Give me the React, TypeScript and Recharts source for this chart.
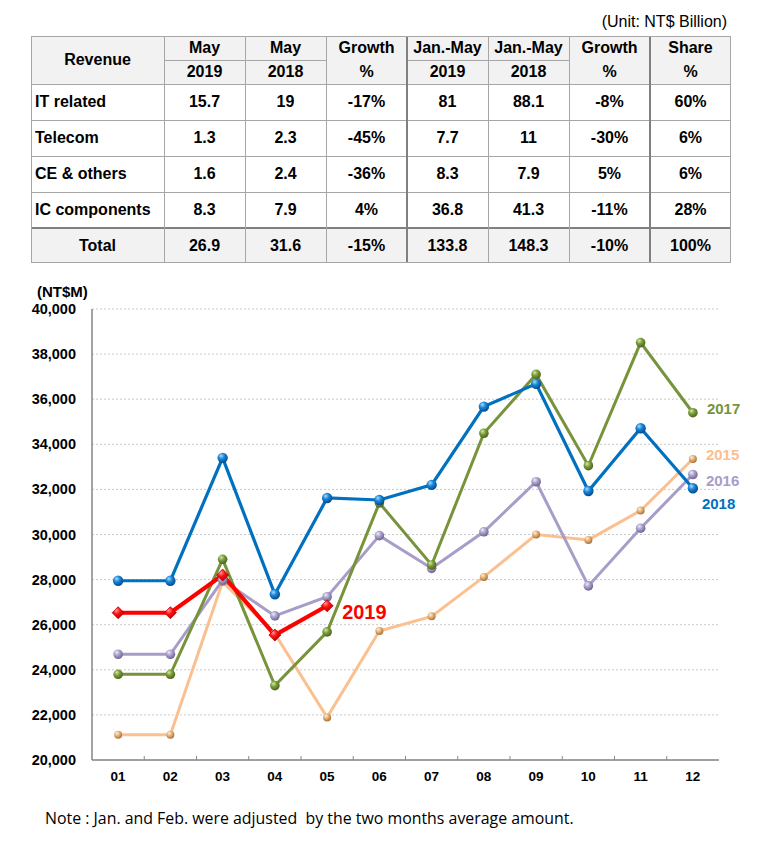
import React from 'react';
import { LineChart, Line, XAxis, YAxis, CartesianGrid } from 'recharts';

const months = ['01', '02', '03', '04', '05', '06', '07', '08', '09', '10', '11', '12'];
const rev2015 = [21120, 21120, 27900, 25600, 21890, 25720, 26370, 28120, 30000, 29760, 31060, 33350];
const rev2016 = [24690, 24690, 27980, 26390, 27240, 29950, 28500, 30120, 32340, 27720, 30280, 32660];
const rev2017 = [23800, 23800, 28900, 23300, 25680, 31400, 28650, 34490, 37100, 33050, 38510, 35400];
const rev2018 = [27950, 27950, 33400, 27350, 31620, 31530, 32200, 35670, 36680, 31930, 34710, 32050];
const rev2019 = [26530, 26530, 28200, 25540, 26840];
const yTicks = [20000, 22000, 24000, 26000, 28000, 30000, 32000, 34000, 36000, 38000, 40000];

const headTop = ['May', 'May', 'Jan.-May', 'Jan.-May'];
const headBottom = ['2019', '2018', '2019', '2018'];
const bodyRows = [
  ['IT related', '15.7', '19', '-17%', '81', '88.1', '-8%', '60%'],
  ['Telecom', '1.3', '2.3', '-45%', '7.7', '11', '-30%', '6%'],
  ['CE & others', '1.6', '2.4', '-36%', '8.3', '7.9', '5%', '6%'],
  ['IC components', '8.3', '7.9', '4%', '36.8', '41.3', '-11%', '28%'],
];
const totalRow = ['Total', '26.9', '31.6', '-15%', '133.8', '148.3', '-10%', '100%'];

const data = months.map((m, i) => ({
  month: m,
  y2015: rev2015[i],
  y2016: rev2016[i],
  y2017: rev2017[i],
  y2018: rev2018[i],
  y2019: i < rev2019.length ? rev2019[i] : null,
}));

const COLS = [0, 133, 214, 295, 376, 457, 538, 619, 700];
const ROWS = [0, 24, 48, 84, 120, 156, 192, 227];
const LINE = '#A6A6A6';
const THICK = '#808080';
const FONT = '"Liberation Sans", Arial, sans-serif';

const PLOT_LEFT = 92;
const PLOT_RIGHT = 719;
const HALF_BAND = (PLOT_RIGHT - PLOT_LEFT) / months.length / 2;

function Cell(props: { c0: number; c1: number; r0: number; r1: number; children: React.ReactNode; align?: string; bg?: string }) {
  const { c0, c1, r0, r1, children, align, bg } = props;
  return (
    <div
      style={{
        position: 'absolute',
        left: COLS[c0],
        top: ROWS[r0],
        width: COLS[c1] - COLS[c0],
        height: ROWS[r1] - ROWS[r0],
        display: 'flex',
        alignItems: 'center',
        justifyContent: align === 'left' ? 'flex-start' : 'center',
        paddingLeft: align === 'left' ? 4 : 0,
        boxSizing: 'border-box',
        background: bg,
        textAlign: 'center',
        lineHeight: '24px',
      }}
    >
      {children}
    </div>
  );
}

function HLine(props: { y: number; x0: number; x1: number; w?: number; color?: string }) {
  const w = props.w || 1;
  return (
    <div style={{ position: 'absolute', left: props.x0, top: props.y - Math.floor(w / 2), width: props.x1 - props.x0, height: w, background: props.color || LINE }} />
  );
}
function VLine(props: { x: number; y0: number; y1: number; w?: number; color?: string }) {
  const w = props.w || 1;
  return (
    <div style={{ position: 'absolute', top: props.y0, left: props.x - Math.floor(w / 2), height: props.y1 - props.y0, width: w, background: props.color || LINE }} />
  );
}

function Table() {
  const HB = '#F2F2F2';
  return (
    <div style={{ position: 'absolute', left: 31, top: 36, width: 700, height: 227, fontFamily: FONT, fontWeight: 'bold', fontSize: 16, color: '#000' }}>
      <div style={{ position: 'absolute', left: 0, top: 0, width: 700, height: 48, background: HB }} />
      <div style={{ position: 'absolute', left: 0, top: 192, width: 700, height: 35, background: HB }} />
      <Cell c0={0} c1={1} r0={0} r1={2}>Revenue</Cell>
      <Cell c0={1} c1={2} r0={0} r1={1}>{headTop[0]}</Cell>
      <Cell c0={2} c1={3} r0={0} r1={1}>{headTop[1]}</Cell>
      <Cell c0={1} c1={2} r0={1} r1={2}>{headBottom[0]}</Cell>
      <Cell c0={2} c1={3} r0={1} r1={2}>{headBottom[1]}</Cell>
      <Cell c0={3} c1={4} r0={0} r1={2}>Growth<br />%</Cell>
      <Cell c0={4} c1={5} r0={0} r1={1}>{headTop[2]}</Cell>
      <Cell c0={5} c1={6} r0={0} r1={1}>{headTop[3]}</Cell>
      <Cell c0={4} c1={5} r0={1} r1={2}>{headBottom[2]}</Cell>
      <Cell c0={5} c1={6} r0={1} r1={2}>{headBottom[3]}</Cell>
      <Cell c0={6} c1={7} r0={0} r1={2}>Growth<br />%</Cell>
      <Cell c0={7} c1={8} r0={0} r1={2}>Share<br />%</Cell>
      {bodyRows.map((row, ri) =>
        row.map((v, ci) => (
          <Cell key={ri + '-' + ci} c0={ci} c1={ci + 1} r0={ri + 2} r1={ri + 3} align={ci === 0 ? 'left' : 'center'}>
            {v}
          </Cell>
        ))
      )}
      {totalRow.map((v, ci) => (
        <Cell key={'t' + ci} c0={ci} c1={ci + 1} r0={6} r1={7}>
          {v}
        </Cell>
      ))}
      <HLine y={24} x0={COLS[1]} x1={COLS[3]} />
      <HLine y={24} x0={COLS[4]} x1={COLS[6]} />
      {[48, 84, 120, 156].map((y) => (
        <HLine key={'h' + y} y={y} x0={0} x1={700} />
      ))}
      <HLine y={192} x0={0} x1={700} w={2} color={THICK} />
      {COLS.slice(1, -1).map((x, i) => (
        <VLine key={'v' + i} x={x} y0={0} y1={227} w={x === 376 || x === 619 ? 2 : 1} color={x === 376 || x === 619 ? THICK : LINE} />
      ))}
      <div style={{ position: 'absolute', left: 0, top: 0, width: 700, height: 227, border: '1px solid ' + LINE, boxSizing: 'border-box' }} />
    </div>
  );
}

function makeBall(id: string) {
  return (props: any) => {
    const { cx, cy, index } = props;
    if (cx == null || cy == null || props.value == null) return <g key={id + index} />;
    const r = props.r0;
    return <circle key={id + index} cx={cx} cy={cy} r={r} fill={'url(#' + id + ')'} stroke="none" />;
  };
}

function ball(id: string, r: number) {
  const f = makeBall(id);
  return (props: any) => f({ ...props, r0: r });
}

function diamond(props: any) {
  const { cx, cy, index, value } = props;
  if (cx == null || cy == null || value == null) return <g key={'d' + index} />;
  const s = 6;
  return (
    <polygon
      key={'d' + index}
      points={`${cx},${cy - s} ${cx + s},${cy} ${cx},${cy + s} ${cx - s},${cy}`}
      fill="url(#g2019)"
      stroke="#C00000"
      strokeWidth={0.8}
    />
  );
}

function endLabel(text: string, color: string, last: number, dx: number, dy: number, size: number) {
  return (props: any) => {
    const { x, y, index } = props;
    if (index !== last || x == null) return <g key={text + index} />;
    return (
      <text key={text + index} x={x + dx} y={y + dy} fill={color} fontSize={size} fontWeight="bold" fontFamily={FONT} dominantBaseline="central">
        {text}
      </text>
    );
  };
}

function XTick(props: any) {
  const { x, y, payload, index } = props;
  return (
    <g>
      {index > 0 && <line x1={x - HALF_BAND} x2={x - HALF_BAND} y1={y - 4} y2={y} stroke="#868686" strokeWidth={1} />}
      <text x={x} y={y + 21} textAnchor="middle" fontSize={13.5} fontWeight="bold" fontFamily={FONT} fill="#000">
        {payload.value}
      </text>
    </g>
  );
}

function YTick(props: any) {
  const { x, y, payload } = props;
  return (
    <text x={x} y={y} textAnchor="end" dominantBaseline="central" fontSize={14.5} fontWeight="bold" fontFamily={FONT} fill="#000">
      {Number(payload.value).toLocaleString('en-US')}
    </text>
  );
}

function Grad(props: { id: string; light: string; mid: string; dark: string }) {
  return (
    <radialGradient id={props.id} cx="0.4" cy="0.35" r="0.65" fx="0.35" fy="0.3">
      <stop offset="0%" stopColor={props.light} />
      <stop offset="45%" stopColor={props.mid} />
      <stop offset="100%" stopColor={props.dark} />
    </radialGradient>
  );
}

export default function App() {
  return (
    <div style={{ position: 'absolute', left: 0, top: 0, width: 765, height: 847, background: '#fff', overflow: 'hidden' }}>
      <div style={{ position: 'absolute', right: 38, top: 13, fontFamily: FONT, fontSize: 16, color: '#000', whiteSpace: 'nowrap' }}>
        (Unit: NT$ Billion)
      </div>
      <Table />
      <div style={{ position: 'absolute', left: 37, top: 283, fontFamily: FONT, fontSize: 15, fontWeight: 'bold', color: '#000', whiteSpace: 'nowrap' }}>
        (NT$M)
      </div>
      <div style={{ position: 'absolute', left: 0, top: 280 }}>
        <LineChart width={765} height={520} data={data} margin={{ top: 29, right: 46, bottom: 10, left: 20 }}>
          <defs>
            <Grad id="g2018" light="#A8DCFF" mid="#1A86D8" dark="#004C8C" />
            <Grad id="g2017" light="#D6EBA8" mid="#7E9E3E" dark="#4A6418" />
            <Grad id="g2016" light="#F0ECFA" mid="#ADA3CC" dark="#6E6494" />
            <Grad id="g2015" light="#FFF2DC" mid="#E8B47C" dark="#A8743C" />
            <Grad id="g2019" light="#FF9A9A" mid="#FF1010" dark="#B00000" />
          </defs>
          <CartesianGrid vertical={false} stroke="#C9C9C9" strokeDasharray="2 2" />
          <XAxis
            dataKey="month"
            scale="band"
            axisLine={{ stroke: '#868686', strokeWidth: 1.5 }}
            tickLine={false}
            tickSize={0}
            tickMargin={0}
            height={30}
            tick={<XTick />}
            interval={0}
          />
          <XAxis xAxisId="top" dataKey="month" orientation="top" scale="band" height={0} tick={false} tickLine={false} axisLine={{ stroke: '#9990BE', strokeWidth: 1.5 }} />
          <YAxis
            domain={[20000, 40000]}
            ticks={yTicks}
            width={72}
            interval={0}
            tickLine={false}
            tickSize={6}
            tickMargin={10}
            axisLine={{ stroke: '#868686', strokeWidth: 1.5 }}
            tick={<YTick />}
          />
          <YAxis yAxisId="right" orientation="right" domain={[20000, 40000]} width={0} tick={false} tickLine={false} axisLine={{ stroke: '#9990BE', strokeWidth: 1.5 }} />
          <Line dataKey="y2015" stroke="#FAC090" strokeWidth={3} dot={ball('g2015', 4)} activeDot={false} isAnimationActive={false} label={endLabel('2015', '#FAC090', 11, 13, -4, 15)} />
          <Line dataKey="y2016" stroke="#A79DC8" strokeWidth={3} dot={ball('g2016', 4.8)} activeDot={false} isAnimationActive={false} label={endLabel('2016', '#A79DC8', 11, 13, 6, 15)} />
          <Line dataKey="y2017" stroke="#77933C" strokeWidth={3} dot={ball('g2017', 4.8)} activeDot={false} isAnimationActive={false} label={endLabel('2017', '#77933C', 11, 14, -4, 15)} />
          <Line dataKey="y2018" stroke="#0070C0" strokeWidth={3.2} dot={ball('g2018', 5.2)} activeDot={false} isAnimationActive={false} label={endLabel('2018', '#0070C0', 11, 9, 15, 15)} />
          <Line dataKey="y2019" stroke="#FF0000" strokeWidth={4.2} dot={diamond} activeDot={false} isAnimationActive={false} connectNulls={false} label={endLabel('2019', '#FF0000', 4, 15, 6, 20)} />
        </LineChart>
      </div>
      <div style={{ position: 'absolute', left: 45, top: 807, fontFamily: '"Open Sans", "Noto Sans", sans-serif', fontSize: 15.9, color: '#000', whiteSpace: 'nowrap' }}>
        Note : Jan. and Feb. were adjusted&nbsp; by the two months average amount.
      </div>
    </div>
  );
}
